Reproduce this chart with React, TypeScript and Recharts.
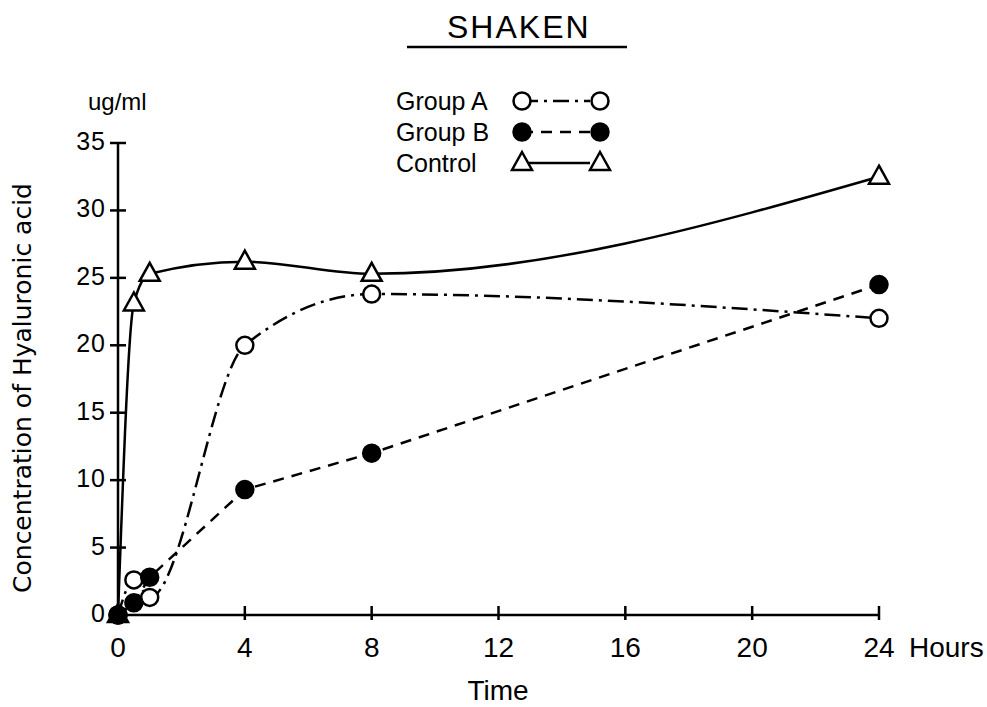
import { LineChart, Line, XAxis, YAxis, Legend } from "recharts";

// hours after start
const hours = [0, 0.5, 1, 4, 8, 24];
// ug/ml hyaluronic acid
const groupA = [0, 2.6, 1.3, 20, 23.8, 22];
const groupB = [0, 0.9, 2.8, 9.3, 12, 24.5];
const control = [0, 23.1, 25.3, 26.2, 25.3, 32.5];

const xTicks = [0, 4, 8, 12, 16, 20, 24];
const yTicks = [0, 5, 10, 15, 20, 25, 30, 35];

const data = hours.map((h, i) => ({
  hour: h,
  groupA: groupA[i],
  groupB: groupB[i],
  control: control[i],
}));

const FONT = "'Liberation Sans', Arial, sans-serif";
const WIDE = "'DejaVu Sans', Verdana, sans-serif";
const INK = "#000";

const styles: Record<string, { dash?: string; marker: "open" | "filled" | "triangle" }> = {
  groupA: { dash: "16 6 3 6", marker: "open" },
  groupB: { dash: "11 8", marker: "filled" },
  control: { marker: "triangle" },
};
const legendOrder = ["groupA", "groupB", "control"];

function Marker({ kind, cx, cy }: { kind: string; cx: number; cy: number }) {
  if (kind === "triangle") {
    return (
      <path
        d={`M${cx},${cy - 11} L${cx + 10},${cy + 7} L${cx - 10},${cy + 7} Z`}
        fill="#fff"
        stroke={INK}
        strokeWidth={2.5}
        strokeLinejoin="miter"
      />
    );
  }
  return (
    <circle
      cx={cx}
      cy={cy}
      r={8.5}
      fill={kind === "filled" ? INK : "#fff"}
      stroke={INK}
      strokeWidth={2.5}
    />
  );
}

const makeDot = (kind: string) => (p: any) =>
  <Marker key={`${kind}-${p.index}`} kind={kind} cx={p.cx} cy={p.cy} />;

function YTick({ x, y, payload }: any) {
  return (
    <g>
      <line x1={x - 8} x2={x + 8} y1={y} y2={y} stroke={INK} strokeWidth={2.5} />
      <text
        x={x - 12}
        y={y - 2}
        textAnchor="end"
        dominantBaseline="central"
        fontFamily={FONT}
        fontSize={25}
        letterSpacing={1}
        fill={INK}
      >
        {payload.value}
      </text>
    </g>
  );
}

function XTick({ x, y, payload }: any) {
  return (
    <g>
      <line x1={x} x2={x} y1={y - 9} y2={y + 5} stroke={INK} strokeWidth={2.5} />
      <text
        x={x}
        y={y + 32}
        textAnchor="middle"
        dominantBaseline="central"
        fontFamily={FONT}
        fontSize={28}
        fill={INK}
      >
        {payload.value}
      </text>
    </g>
  );
}

function LegendBox({ payload }: any) {
  const items = [...(payload || [])].sort(
    (a: any, b: any) => legendOrder.indexOf(a.dataKey) - legendOrder.indexOf(b.dataKey)
  );
  return (
    <svg width={260} height={100} style={{ display: "block" }}>
      {items.map((item: any, i: number) => {
        const st = styles[item.dataKey];
        const y = 16 + i * 31;
        return (
          <g key={item.dataKey}>
            <text x={16} y={y} dominantBaseline="central" fontFamily={FONT} fontSize={25} fill={INK}>
              {item.value}
            </text>
            <line
              x1={142}
              x2={210}
              y1={y}
              y2={y}
              stroke={INK}
              strokeWidth={2.5}
              strokeDasharray={st.dash}
            />
            <Marker kind={st.marker} cx={142} cy={y} />
            <Marker kind={st.marker} cx={220} cy={y} />
          </g>
        );
      })}
    </svg>
  );
}

export default function App() {
  return (
    <div style={{ position: "absolute", left: 0, top: 0, background: "#fff" }}>
      <LineChart
        width={987}
        height={707}
        data={data}
        margin={{ top: 143, right: 108, bottom: 52, left: 58 }}
      >
        <XAxis
          dataKey="hour"
          type="number"
          domain={[0, 24]}
          ticks={xTicks}
          height={40}
          tickSize={0}
          tickMargin={0}
          tickLine={false}
          axisLine={{ stroke: INK, strokeWidth: 2.5 }}
          tick={<XTick />}
        />
        <YAxis
          type="number"
          domain={[0, 35]}
          ticks={yTicks}
          width={60}
          tickSize={0}
          tickMargin={0}
          tickLine={false}
          axisLine={{ stroke: INK, strokeWidth: 2.5 }}
          tick={<YTick />}
        />
        <Legend
          content={<LegendBox />}
          layout="horizontal"
          verticalAlign="middle"
          align="center"
          wrapperStyle={{ position: "absolute", left: 380, top: 85, width: 260, height: 100 }}
        />
        <Line
          dataKey="groupA"
          name="Group A"
          type="monotone"
          stroke={INK}
          strokeWidth={2.5}
          strokeDasharray={styles.groupA.dash}
          dot={makeDot("open")}
          isAnimationActive={false}
        />
        <Line
          dataKey="control"
          name="Control"
          type="monotone"
          stroke={INK}
          strokeWidth={2.5}
          dot={makeDot("triangle")}
          isAnimationActive={false}
        />
        <Line
          dataKey="groupB"
          name="Group B"
          type="linear"
          stroke={INK}
          strokeWidth={2.5}
          strokeDasharray={styles.groupB.dash}
          dot={makeDot("filled")}
          isAnimationActive={false}
        />
        <text x={447} y={27} dominantBaseline="central" fontFamily={FONT} fontSize={32} letterSpacing={2} fill={INK}>
          SHAKEN
        </text>
        <line x1={407} x2={627} y1={47} y2={47} stroke={INK} strokeWidth={2.5} />
        <text x={88} y={101} dominantBaseline="central" fontFamily={FONT} fontSize={24} fill={INK}>
          ug/ml
        </text>
        <text
          x={22}
          y={388}
          transform="rotate(-90 22 388)"
          textAnchor="middle"
          dominantBaseline="central"
          fontFamily={WIDE}
          fontSize={25}
          fill={INK}
        >
          Concentration of Hyaluronic acid
        </text>
        <text x={909} y={647} dominantBaseline="central" fontFamily={FONT} fontSize={28} fill={INK}>
          Hours
        </text>
        <text x={498} y={690} textAnchor="middle" dominantBaseline="central" fontFamily={FONT} fontSize={28} fill={INK}>
          Time
        </text>
      </LineChart>
    </div>
  );
}
